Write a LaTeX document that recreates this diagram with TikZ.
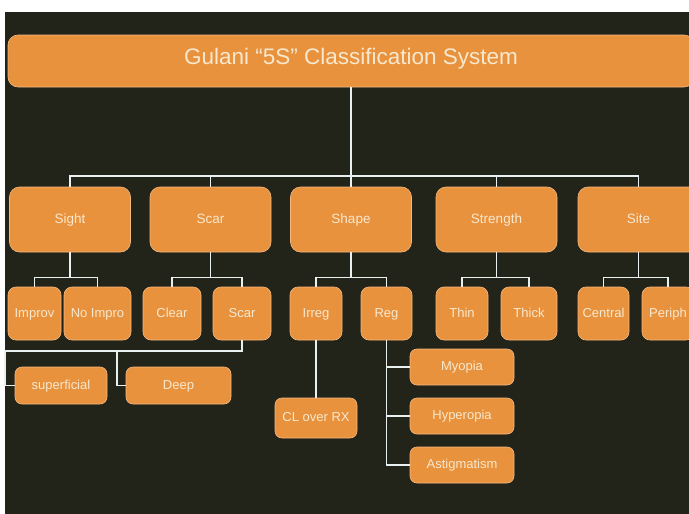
\documentclass[tikz,border=0pt]{standalone}
\usepackage{fontspec}
\setmainfont{Liberation Sans}
\usepackage{xcolor}
\usepackage{tikz}
\definecolor{slidebg}{RGB}{34,35,25}
\definecolor{boxorange}{RGB}{232,146,62}
\definecolor{boxrim}{RGB}{244,184,128}
\definecolor{boxtext}{RGB}{247,232,206}
\definecolor{linkwhite}{RGB}{232,240,240}

\begin{document}
\begin{tikzpicture}[
    x=1pt, y=-1pt,
    box/.style={draw=boxrim, line width=0.6pt, fill=boxorange, rounded corners=#1,
        inner sep=0pt, text=boxtext, text height=0.85em, text depth=0.13em},
    box/.default=8pt,
    head/.style={box=10pt, minimum width=686pt, minimum height=52pt, font=\fontsize{22.5}{26}\selectfont},
    top/.style={box=10pt, minimum width=121pt, minimum height=65pt, font=\fontsize{13.5}{16}\selectfont},
    sub/.style={box=8pt, minimum width=#1, minimum height=53pt, font=\fontsize{13}{15}\selectfont},
    leaf/.style={box=7pt, minimum width=#1, minimum height=37pt, font=\fontsize{13}{15}\selectfont},
    link/.style={draw=linkwhite, line width=1.3pt}
]
\useasboundingbox (0,0) rectangle (689,514);
\fill[slidebg] (5,12) rectangle (689,514);

% Title
\node[head] (title) at (351,61) {Gulani “5S” Classification System};
\coordinate (bus) at (351,176);

% The five S
\node[top] (sight) at (70,219.5) {Sight};
\node[top] (scar) at (210.5,219.5) {Scar};
\node[top] (shape) at (351,219.5) {Shape};
\node[top] (strength) at (496.5,219.5) {Strength};
\node[top] (site) at (638.5,219.5) {Site};

% Second level
\node[sub=53pt] (improv) at (34.5,313.5) {Improv};
\node[sub=67pt] (noimpro) at (97.5,313.5) {No Impro};
\node[sub=58pt] (clear) at (172,313.5) {Clear};
\node[sub=58pt] (scartwo) at (242,313.5) {Scar};
\node[sub=52pt] (irreg) at (316,313.5) {Irreg};
\node[sub=51pt] (reg) at (386.5,313.5) {Reg};
\node[sub=52pt] (thin) at (462,313.5) {Thin};
\node[sub=56pt] (thick) at (529,313.5) {Thick};
\node[sub=51pt] (central) at (603.5,313.5) {Central};
\node[sub=52pt] (periph) at (668,313.5) {Periph};

% Third level
\node[leaf=92pt] (superficial) at (61,385.5) {superficial};
\node[leaf=105pt] (deep) at (178.5,385.5) {Deep};
\node[leaf=82pt, minimum height=40pt] (clrx) at (316,418) {CL over RX};
\node[leaf=104pt, minimum height=36pt] (myopia) at (462,367) {Myopia};
\node[leaf=104pt, minimum height=36pt] (hyperopia) at (462,416) {Hyperopia};
\node[leaf=104pt, minimum height=36pt] (astig) at (462,465) {Astigmatism};

% Links
\foreach \n in {sight,scar,shape,strength,site}
    \draw[link] (title.south) -- (bus) -| (\n.north);

\draw[link] (sight.south) -- ++(0,25) -| (improv.north);
\draw[link] (sight.south) -- ++(0,25) -| (noimpro.north);
\draw[link] (scar.south) -- ++(0,25) -| (clear.north);
\draw[link] (scar.south) -- ++(0,25) -| (scartwo.north);
\draw[link] (shape.south) -- ++(0,25) -| (irreg.north);
\draw[link] (shape.south) -- ++(0,25) -| (reg.north);
\draw[link] (strength.south) -- ++(0,25) -| (thin.north);
\draw[link] (strength.south) -- ++(0,25) -| (thick.north);
\draw[link] (site.south) -- ++(0,25) -| (central.north);
\draw[link] (site.south) -- ++(0,25) -| (periph.north);

\coordinate (scarrail) at (5,351);
\coordinate (deepjoin) at (117,351);
\draw[link] (scartwo.south) |- (scarrail) |- (superficial.west);
\draw[link] (deepjoin) |- (deep.west);

\draw[link] (irreg) -- (clrx);
\draw[link] (reg.south) |- (myopia.west);
\draw[link] (reg.south) |- (hyperopia.west);
\draw[link] (reg.south) |- (astig.west);
\end{tikzpicture}
\end{document}
